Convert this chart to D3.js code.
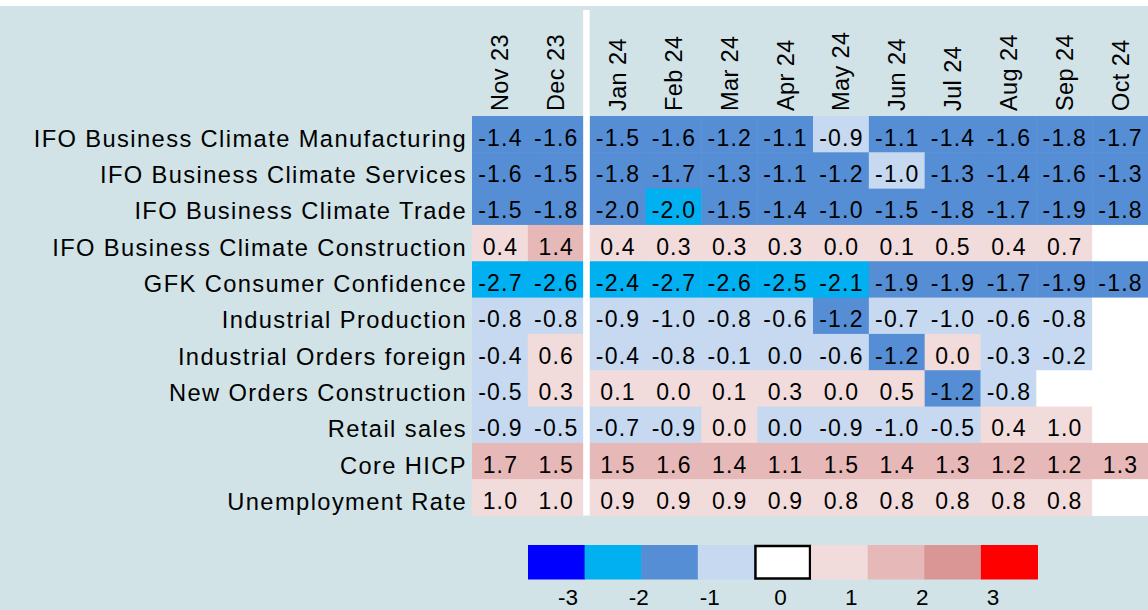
<!DOCTYPE html>
<html>
<head>
<meta charset="utf-8">
<script src="https://cdn.jsdelivr.net/npm/d3@7"></script>
<style>
  body { margin: 0; background: #fff; }
  svg text { font-family: "Liberation Sans", Arial, sans-serif; fill: #000; }
</style>
</head>
<body>
<div id="chart"></div>
<script>
const months = ["Nov 23", "Dec 23", "Jan 24", "Feb 24", "Mar 24", "Apr 24", "May 24", "Jun 24", "Jul 24", "Aug 24", "Sep 24", "Oct 24"]

const indicators = [
  "IFO Business Climate Manufacturing",
  "IFO Business Climate Services",
  "IFO Business Climate Trade",
  "IFO Business Climate Construction",
  "GFK Consumer Confidence",
  "Industrial Production",
  "Industrial Orders foreign",
  "New Orders Construction",
  "Retail sales",
  "Core HICP",
  "Unemployment Rate"
]

// z-scores per indicator, Nov 23 .. Oct 24 (null = not yet published)
const ifoManufacturing = [-1.4, -1.6, -1.5, -1.6, -1.2, -1.1, -0.9, -1.1, -1.4, -1.6, -1.8, -1.7]
const ifoServices      = [-1.6, -1.5, -1.8, -1.7, -1.3, -1.1, -1.2, -0.98, -1.3, -1.4, -1.6, -1.3]
const ifoTrade         = [-1.5, -1.8, -1.98, -2.02, -1.5, -1.4, -1.02, -1.5, -1.8, -1.7, -1.9, -1.8]
const ifoConstruction  = [0.4, 1.4, 0.4, 0.3, 0.3, 0.3, 0.0, 0.1, 0.5, 0.4, 0.7, null]
const gfkConfidence    = [-2.7, -2.6, -2.4, -2.7, -2.6, -2.5, -2.1, -1.9, -1.9, -1.7, -1.9, -1.8]
const indProduction    = [-0.8, -0.8, -0.9, -0.98, -0.8, -0.6, -1.2, -0.7, -0.97, -0.6, -0.8, null]
const indOrdersForeign = [-0.4, 0.6, -0.4, -0.8, -0.1, -0.03, -0.6, -1.2, 0.02, -0.3, -0.2, null]
const newOrdersConstr  = [-0.5, 0.3, 0.1, 0.0, 0.1, 0.3, 0.0, 0.5, -1.2, -0.8, null, null]
const retailSales      = [-0.9, -0.5, -0.7, -0.9, 0.0, -0.02, -0.9, -0.96, -0.5, 0.4, 0.97, null]
const coreHicp         = [1.7, 1.5, 1.5, 1.6, 1.4, 1.1, 1.5, 1.4, 1.3, 1.2, 1.2, 1.3]
const unemployment     = [0.98, 0.98, 0.9, 0.9, 0.9, 0.9, 0.8, 0.8, 0.8, 0.8, 0.8, null]

const series = [ifoManufacturing, ifoServices, ifoTrade, ifoConstruction, gfkConfidence,
  indProduction, indOrdersForeign, newOrdersConstr, retailSales, coreHicp, unemployment]

const thresholds = [-3, -2, -1, 0, 1, 2, 3]
const cellColors = ["#0000FF", "#00B0F0", "#558ED5", "#C6D9F1", "#F2DCDB", "#E6B9B8", "#D99694", "#FF0000"]
const legendColors = ["#0000FF", "#00B0F0", "#558ED5", "#C6D9F1", "#FFFFFF", "#F2DCDB", "#E6B9B8", "#D99694", "#FF0000"]
const legendTicks = [-3, -2, -1, 0, 1, 2, 3]

const width = 1148, height = 610
const gap = 6

const svg = d3.select('#chart')
  .append('svg')
  .attr('width', width)
  .attr('height', height)

svg.append('rect')
  .attr('y', 6)
  .attr('width', width)
  .attr('height', height - 6)
  .style('fill', '#D1E3E7')

const x = d3.scaleBand()
  .domain(months)
  .range([472, width - gap])

// the first two months sit left of the year break
const colX = function(m) { return x(m) + (months.indexOf(m) >= 2 ? gap : 0) }

const y = d3.scaleBand()
  .domain(indicators)
  .range([116, 515.5])

const color = d3.scaleThreshold()
  .domain(thresholds)
  .range(cellColors)

const fmt = d3.formatLocale({ decimal: ".", thousands: ",", grouping: [3], currency: ["", ""], minus: "-" }).format(".1f")

const cells = []
indicators.forEach(function(name, r) {
  months.forEach(function(m, c) {
    cells.push({ name: name, month: m, value: series[r][c] })
  })
})

svg.selectAll('.cell')
  .data(cells)
  .enter()
  .append('rect')
  .attr('class', 'cell')
  .attr('x', function(d) { return colX(d.month) })
  .attr('y', function(d) { return y(d.name) })
  .attr('width', x.bandwidth() + 0.5)
  .attr('height', y.bandwidth() + 0.5)
  .style('fill', function(d) { return d.value === null ? '#FFFFFF' : color(d.value) })

// white line at the year break
svg.append('rect')
  .attr('x', x(months[2]) - 0.5)
  .attr('y', 10)
  .attr('width', gap + 0.5)
  .attr('height', 515.5 - 10)
  .style('fill', '#FFFFFF')

svg.selectAll('.val')
  .data(cells.filter(function(d) { return d.value !== null }))
  .enter()
  .append('text')
  .attr('class', 'val')
  .attr('x', function(d) { return colX(d.month) + x.bandwidth() / 2 + 0.5 })
  .attr('y', function(d) { return y(d.name) + y.bandwidth() / 2 + 11.5 })
  .attr('text-anchor', 'middle')
  .style('font-size', '23px')
  .style('letter-spacing', '1.2px')
  .text(function(d) { return fmt(d.value) })

svg.selectAll('.rowlab')
  .data(indicators)
  .enter()
  .append('text')
  .attr('class', 'rowlab')
  .attr('x', 467)
  .attr('y', function(d) { return y(d) + y.bandwidth() / 2 + 12.5 })
  .attr('text-anchor', 'end')
  .style('font-size', '23.7px')
  .style('letter-spacing', '1.4px')
  .text(function(d) { return d })

svg.selectAll('.collab')
  .data(months)
  .enter()
  .append('text')
  .attr('class', 'collab')
  .attr('transform', function(d) { return 'translate(' + (colX(d) + x.bandwidth() / 2 + 8.5) + ',111) rotate(-90)' })
  .style('font-size', '23.5px')
  .style('letter-spacing', '0.4px')
  .text(function(d) { return d })

// legend
const lx = d3.scaleBand()
  .domain(d3.range(legendColors.length))
  .range([528, 1037.5])

svg.selectAll('.leg')
  .data(legendColors)
  .enter()
  .append('rect')
  .attr('class', 'leg')
  .attr('x', function(d, i) { return lx(i) + (d === '#FFFFFF' ? 1 : 0) })
  .attr('y', function(d) { return d === '#FFFFFF' ? 546 : 545 })
  .attr('width', function(d) { return lx.bandwidth() + (d === '#FFFFFF' ? -2 : 0.5) })
  .attr('height', function(d) { return d === '#FFFFFF' ? 32.5 : 34.5 })
  .style('fill', function(d) { return d })
  .style('stroke', function(d) { return d === '#FFFFFF' ? '#000' : 'none' })
  .style('stroke-width', 2.5)

const lt = d3.scaleLinear()
  .domain([-3, 3])
  .range([568, 993])

svg.selectAll('.legtick')
  .data(legendTicks)
  .enter()
  .append('text')
  .attr('class', 'legtick')
  .attr('x', function(d) { return lt(d) })
  .attr('y', 605)
  .attr('text-anchor', 'middle')
  .style('font-size', '22.5px')
  .text(function(d) { return fmt(d).replace('.0', '') })
</script>
</body>
</html>
